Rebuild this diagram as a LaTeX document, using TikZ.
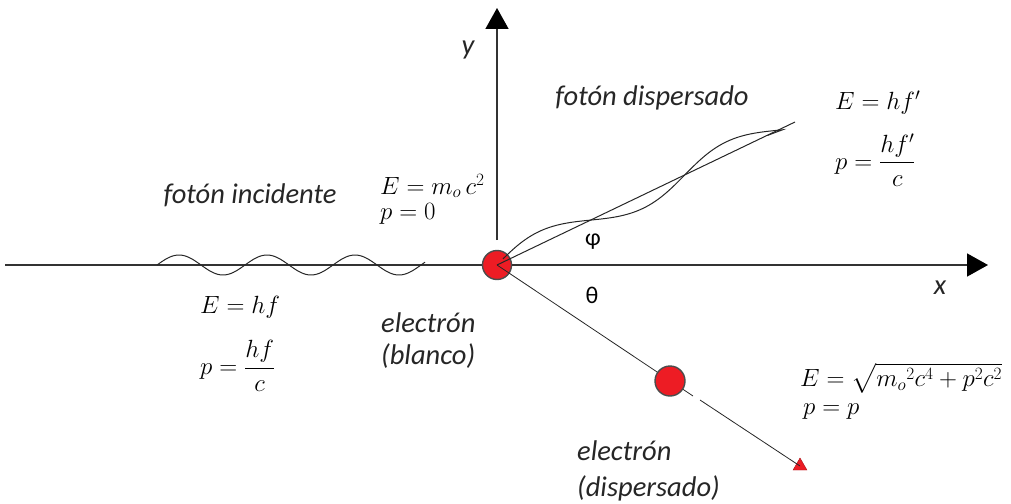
\documentclass[tikz,border=0pt]{standalone}
\usepackage{amsmath}
\usepackage{fontspec}
\setmainfont{Carlito}
\usetikzlibrary{arrows.meta,shapes.geometric}
\definecolor{elred}{HTML}{ED1C24}
\begin{document}
\begin{tikzpicture}[x=1pt,y=-1pt,
  lbl/.style={font=\fontsize{28.5}{33}\selectfont\itshape, text=black!85, inner sep=0},
  eq/.style={font=\fontsize{23.5}{28}\selectfont, anchor=west, inner sep=0},
  axisline/.style={line width=1.6pt, draw=black!80},
  wave/.style={line width=1pt, draw=black!85},
  particle/.style={circle, fill=elred, draw=black!70, line width=1.4pt, minimum size=29pt, inner sep=0},
  tip/.style={-{Triangle[length=21pt,width=23pt,black]}}
]
\useasboundingbox (0,0) rectangle (1011,503);

% axes
\coordinate (xs) at (5,265);
\coordinate (xe) at (988,265);
\coordinate (ys) at (497,240);
\coordinate (ye) at (497,8);
\draw[axisline, tip] (xs) -- (xe);
\draw[axisline, tip] (ys) -- (ye);
\node[lbl] (ylab) at (468,50) {y};
\node[lbl] (xlab) at (940,288) {x};

% target electron
\node[particle] (e1) at (497,265) {};

% incident photon wave
\draw[wave] plot[domain=157:425, samples=120, smooth] (\x, {265-10*sin((\x-157)*4.0909)});

% scattered photon
\coordinate (phend) at (795,122);
\draw[wave] (e1.center) -- (phend);
\begin{scope}[shift={(497,265)}, rotate=25.6]
  \draw[wave] plot[domain=8:316, samples=90, smooth] (\x, {-12*sin(\x*1.7308)}) -- (300,0);
\end{scope}

% scattered electron
\coordinate (g1) at (693,396);
\coordinate (g2) at (700,400);
\node[regular polygon, regular polygon sides=3, fill=elred, draw=elred!70!black, line width=0.4pt, minimum size=16pt, inner sep=0] (tri) at (800,466) {};
\draw[wave, line width=0.8pt] (e1.center) -- (g1);
\draw[wave, line width=0.8pt] (g2) -- (tri.center);
\node[particle, minimum size=30pt] (e2) at (670,381) {};

% angles
\node[font=\fontsize{24}{28}\selectfont, inner sep=0] (phi) at (593,242) {φ};
\node[font=\fontsize{24}{28}\selectfont, inner sep=0] (theta) at (592,295) {θ};

% labels
\node[lbl] (inc) at (250,195) {fotón incidente};
\node[lbl] (disp) at (652,98) {fotón dispersado};
\node[lbl, anchor=west] (el1a) at (381,323) {electrón};
\node[lbl, anchor=west] (el1b) at (381,356) {(blanco)};
\node[lbl, anchor=west] (el2a) at (577,451) {electrón};
\node[lbl, anchor=west] (el2b) at (577,488) {(dispersado)};

% equations
\node[eq] (eqa) at (380,186) {$E=m_{o}\,c^{2}$};
\node[eq] (eqb) at (380,214) {$p=0$};
\node[eq] (eqc) at (200,307) {$E=hf$};
\node[eq] (eqd) at (200,366) {$p=\dfrac{hf}{c}$};
\node[eq] (eqe) at (835,103) {$E=hf'$};
\node[eq] (eqf) at (835,160) {$p=\dfrac{hf'}{c}$};
\node[eq] (eqg) at (800,378) {$E=\sqrt{{m_{o}}^{2}c^{4}+p^{2}c^{2}}$};
\node[eq] (eqh) at (803,412) {$p=p$};
\end{tikzpicture}
\end{document}
